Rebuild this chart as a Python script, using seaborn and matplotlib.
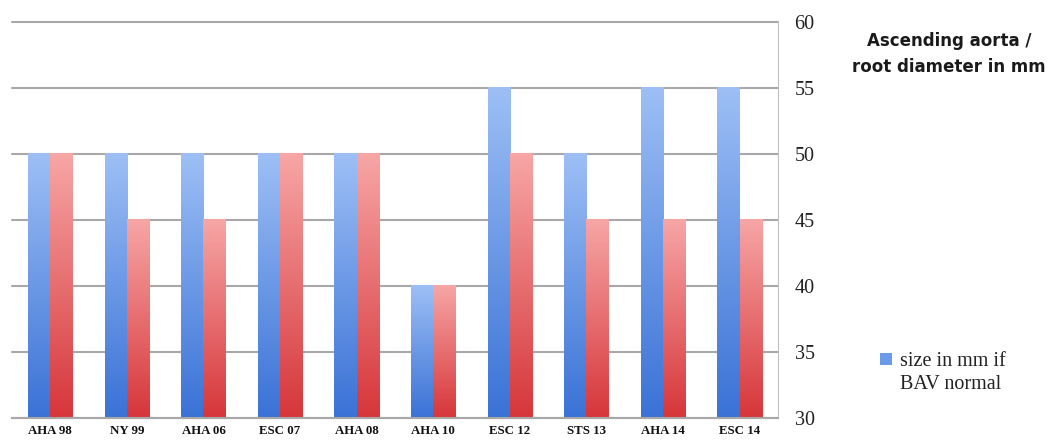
import numpy as np
import pandas as pd
import matplotlib
matplotlib.use("Agg")
import matplotlib.pyplot as plt
import seaborn as sns
from matplotlib.colors import LinearSegmentedColormap
from matplotlib.patches import Rectangle

categories = ["AHA 98", "NY 99", "AHA 06", "ESC 07", "AHA 08", "AHA 10", "ESC 12", "STS 13", "AHA 14", "ESC 14"]
bav_normal = [50, 50, 50, 50, 50, 40, 55, 50, 55, 55]
bav_other = [50, 45, 45, 50, 50, 40, 50, 45, 45, 45]
series_names = ["size in mm if\nBAV normal", "other"]
yticks = [30, 35, 40, 45, 50, 55, 60]

df = pd.DataFrame({
    "cat": categories * 2,
    "val": bav_normal + bav_other,
    "series": [series_names[0]] * len(categories) + [series_names[1]] * len(categories),
})

sns.set_style("white")
W, H = 1058, 447
fig = plt.figure(figsize=(W / 100, H / 100), dpi=100)
ax = fig.add_axes([0.0113, 0.065, 0.7240, 0.886])

blue_top, blue_bot = "#9dbff5", "#3a72d6"
red_top, red_bot = "#f7a6a6", "#d6363a"
sns.barplot(data=df, x="cat", y="val", hue="series", palette=[blue_bot, red_bot],
            width=0.58, ax=ax, legend=False, saturation=1)

cmaps = [LinearSegmentedColormap.from_list("b", [blue_bot, blue_top]),
         LinearSegmentedColormap.from_list("r", [red_bot, red_top])]
grad = np.linspace(0, 1, 256).reshape(-1, 1)
for i, cont in enumerate(ax.containers):
    for p in cont.patches:
        x0, y0 = p.get_x(), p.get_y()
        w, h = p.get_width(), p.get_height()
        y0c = max(y0, 30)
        p.set_facecolor("none")
        p.set_edgecolor("none")
        ax.imshow(grad, cmap=cmaps[i], aspect="auto", origin="lower",
                  extent=[x0, x0 + w, y0c, y0 + h], zorder=2)
ax.set_xlim(-0.5, len(categories) - 0.5)
ax.set_ylim(30, 60)

ax.yaxis.tick_right()
ax.set_yticks(yticks)
ax.set_yticklabels([str(t) for t in yticks], fontsize=14.5, family="Liberation Serif", color="#222222")
ax.tick_params(axis="y", length=0, pad=12)
ax.set_xticks(range(len(categories)))
ax.set_xticklabels(categories, fontsize=9.3, family="Liberation Serif", fontweight="bold", color="#111111")
ax.tick_params(axis="x", length=0, pad=5)
ax.set_xlabel("")
ax.set_ylabel("")
ax.grid(axis="y", color="#a8a8a8", linewidth=1.5, zorder=0)
for gl in ax.get_ygridlines():
    gl.set_clip_on(False)
ax.set_axisbelow(True)
for s in ["left", "top"]:
    ax.spines[s].set_visible(False)
ax.spines["right"].set_color("#c0c0c0")
ax.spines["bottom"].set_color("#a8a8a8")
ax.spines["bottom"].set_linewidth(1.5)

fig.text(949 / W, 1 - 54 / H, "Ascending aorta /\nroot diameter in mm", ha="center", va="center",
         fontsize=12, fontweight="bold", family="DejaVu Sans", linespacing=1.5, color="#1a1a1a")

# legend (only the first series is shown in the original)
fig.patches.append(Rectangle((880 / W, 1 - 365 / H), 12 / W, 12 / H, transform=fig.transFigure,
                             facecolor="#6a9ae8", edgecolor="none"))
fig.text(900 / W, 1 - 373 / H, series_names[0], ha="left", va="center",
         fontsize=14.5, family="Liberation Serif", linespacing=1.3, color="#222222")

fig.savefig("out.png", dpi=100)
